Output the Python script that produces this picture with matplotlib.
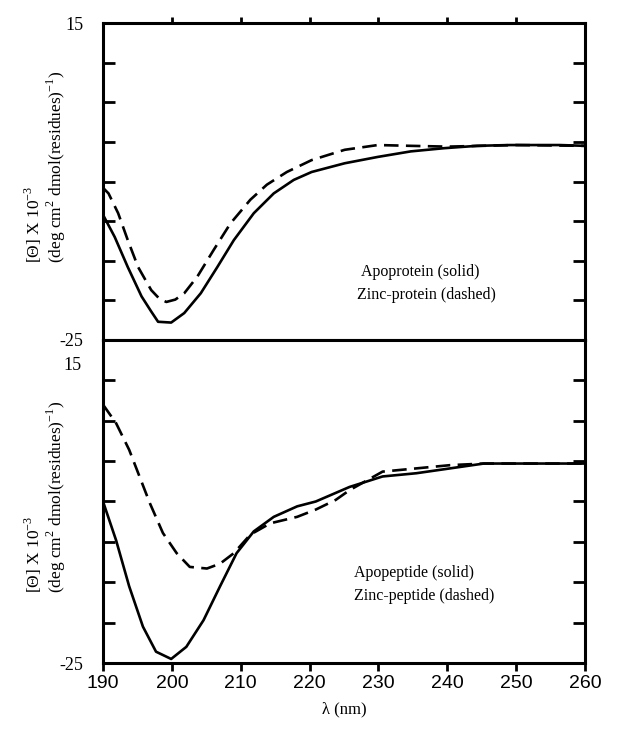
import matplotlib
matplotlib.use("Agg")
import matplotlib.pyplot as plt

plt.rcParams['font.family'] = ['Liberation Serif', 'DejaVu Serif']
plt.rcParams['mathtext.fontset'] = 'custom'
plt.rcParams['mathtext.rm'] = 'Liberation Serif'

# Apoprotein / zinc-protein (top panel)
lam_prot_solid = [190, 191.7, 193.6, 195.6, 197.0, 198.0, 199.9, 201.8, 204.2, 206.6, 209.0, 211.9,
                  214.8, 217.7, 220.3, 225.1, 229.9, 234.7, 239.5, 244.3, 249.1, 256.3, 260]
prot_solid = [-9.2, -12.0, -15.8, -19.5, -21.4, -22.7, -22.8, -21.6, -19.1, -15.8, -12.4, -9.0,
              -6.5, -4.8, -3.8, -2.7, -1.9, -1.2, -0.8, -0.5, -0.4, -0.4, -0.5]
lam_prot_dash = [190, 190.8, 192.2, 193.6, 195.1, 197.0, 198.2, 199.2, 200.5, 201.8, 203.7, 206.1,
                 208.5, 211.4, 213.8, 216.7, 220.3, 225.1, 229.9, 234.7, 240, 250, 260]
prot_dash = [-5.8, -6.5, -9.0, -12.4, -15.8, -18.7, -19.8, -20.2, -19.9, -19.1, -17.0, -13.6,
             -10.3, -7.3, -5.4, -3.8, -2.3, -1.0, -0.4, -0.5, -0.6, -0.4, -0.5]

# Apopeptide / zinc-peptide (bottom panel)
lam_pep_solid = [190, 191.9, 193.8, 195.8, 197.7, 199.9, 202.1, 204.6, 207.0, 209.4, 211.9,
                 214.8, 218.2, 220.9, 225.8, 230.6, 235.5, 240.4, 245.3, 250.2, 255, 260]
pep_solid = [-5.0, -9.8, -15.5, -20.5, -23.6, -24.5, -23.0, -19.7, -15.5, -11.4, -8.7,
             -6.9, -5.6, -5.0, -3.2, -1.9, -1.5, -0.9, -0.3, -0.3, -0.3, -0.3]
lam_pep_dash = [190, 191.9, 193.8, 195.3, 196.8, 198.7, 200.7, 202.6, 205.1, 207.0, 209.0, 211.4,
                214.3, 218.2, 220.9, 223.8, 225.8, 230.6, 235.5, 240.4, 245.3, 250, 260]
pep_dash = [7.0, 4.7, 1.4, -1.9, -5.2, -8.9, -11.4, -13.1, -13.3, -12.7, -11.4, -9.1,
            -7.7, -6.9, -6.0, -4.8, -3.6, -1.3, -0.9, -0.5, -0.3, -0.3, -0.3]

yticks = [-25, -20, -15, -10, -5, 0, 5, 10, 15]
xticks = [190, 200, 210, 220, 230, 240, 250, 260]

W, H = 622, 731
fig = plt.figure(figsize=(6.22, 7.31), dpi=100)
L, R = 103, 585
ax1 = fig.add_axes([L / W, 1 - 340 / H, (R - L) / W, (340 - 23) / H])
ax2 = fig.add_axes([L / W, 1 - 663 / H, (R - L) / W, (663 - 340) / H])

lw = 1.9
for ax, ls, ys, ld, yd in [(ax1, lam_prot_solid, prot_solid, lam_prot_dash, prot_dash),
                           (ax2, lam_pep_solid, pep_solid, lam_pep_dash, pep_dash)]:
    ax.plot(ls, ys, color='black', lw=lw, solid_joinstyle='round')
    ax.plot(ld, yd, color='black', lw=lw, dashes=(5.5, 2.8))
    ax.set_xlim(190, 260)
    ax.set_ylim(-25, 15)
    for s in ax.spines.values():
        s.set_linewidth(2.2)
    ax.set_yticks(yticks)
    ax.set_yticklabels(['-25'] + [''] * 7 + ['15'], fontsize=13)
    ax.tick_params(axis='y', which='both', direction='in', length=8.5, width=2.0,
                   left=True, right=True, pad=14)

# top panel: ticks above, no labels
ax1.set_xticks(xticks[1:-1])
ax1.xaxis.set_ticks_position('top')
ax1.tick_params(axis='x', direction='out', length=4.5, width=2.0, labeltop=False)

# bottom panel
ax2.set_yticklabels(['-25'] + [''] * 8, fontsize=13)
ax2.text(-0.045, 11.9, '15', transform=ax2.get_yaxis_transform(), ha='right', va='center',
         fontsize=13)
ax2.set_xticks(xticks)
ax2.set_xticklabels([str(t) for t in xticks], family='Liberation Sans', fontsize=14)
ax2.tick_params(axis='x', direction='out', length=5.5, width=2.0, pad=3)
ax2.set_xlabel('λ (nm)', fontsize=12, labelpad=7)

ax1.text(0.535, 0.215, 'Apoprotein (solid)', transform=ax1.transAxes, fontsize=11.5, va='center')
ax1.text(0.527, 0.143, 'Zinc-protein (dashed)', transform=ax1.transAxes, fontsize=11.5, va='center')
ax2.text(0.52, 0.28, 'Apopeptide (solid)', transform=ax2.transAxes, fontsize=11.5, va='center')
ax2.text(0.52, 0.208, 'Zinc-peptide (dashed)', transform=ax2.transAxes, fontsize=11.5, va='center')

# y labels (two lines, bottom-aligned)
for ybase in [263, 593]:
    fig.text(33 / W, 1 - ybase / H, '[Θ] X 10$^{\\mathregular{-3}}$', rotation=90,
             ha='center', va='bottom', fontsize=12.5)
    fig.text(56 / W, 1 - ybase / H,
             '(deg cm$^{\\mathregular{2}}$ dmol(residues)$^{\\mathregular{-1}}$)',
             rotation=90, ha='center', va='bottom', fontsize=12.5)

fig.savefig('out.png', dpi=100)
